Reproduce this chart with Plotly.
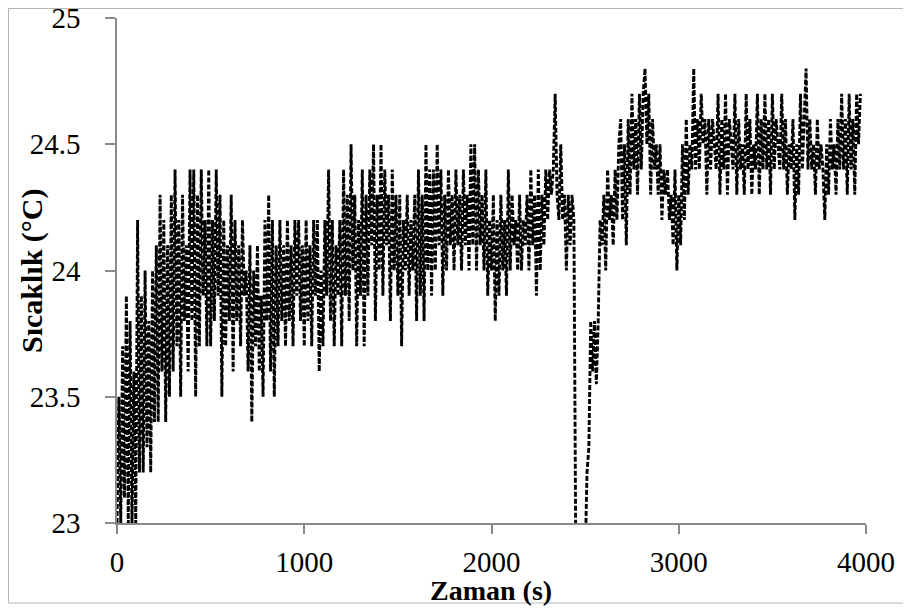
import plotly.graph_objects as go

# Sample times (s), one reading every 10 s
time_s = list(range(0, 3980, 10))

# Temperature readings (°C) (one row = 100 s)
temperature_c = [
    23.0, 23.5, 23.0, 23.7, 23.1, 23.9, 23.0, 23.8, 23.0, 23.6,
    23.0, 24.2, 23.2, 23.9, 23.2, 24.0, 23.3, 23.8, 23.2, 24.0,
    23.4, 24.1, 23.4, 24.3, 23.6, 24.2, 23.4, 24.1, 23.5, 24.3,
    23.6, 24.4, 23.7, 24.2, 23.5, 24.3, 23.8, 24.1, 23.6, 24.4,
    23.8, 24.4, 23.5, 24.3, 23.7, 24.4, 23.9, 24.2, 23.7, 24.4,
    23.7, 24.2, 23.8, 24.4, 23.9, 24.3, 23.5, 24.2, 23.7, 24.1,
    23.8, 24.3, 23.6, 24.2, 23.8, 24.1, 23.7, 24.2, 23.9, 24.0,
    23.6, 24.1, 23.4, 24.0, 23.7, 24.1, 23.6, 23.9, 23.5, 24.2,
    23.8, 24.3, 23.6, 24.2, 23.5, 24.1, 23.7, 24.2, 23.8, 24.1,
    23.7, 24.2, 23.8, 24.1, 23.7, 24.2, 23.9, 24.2, 23.8, 24.1,
    23.7, 24.2, 23.8, 24.1, 23.7, 24.2, 23.9, 24.2, 23.6, 24.0,
    23.7, 24.2, 23.9, 24.4, 23.8, 24.2, 23.7, 24.1, 23.9, 24.2,
    23.7, 24.4, 23.9, 24.3, 23.8, 24.5, 24.0, 24.3, 23.7, 24.2,
    23.9, 24.4, 23.7, 24.3, 23.9, 24.4, 24.1, 24.5, 23.8, 24.3,
    24.0, 24.5, 23.9, 24.4, 24.1, 24.3, 23.8, 24.4, 24.0, 24.3,
    23.9, 24.3, 23.7, 24.2, 24.0, 24.3, 23.9, 24.2, 24.0, 24.3,
    23.8, 24.4, 23.9, 24.3, 23.8, 24.5, 24.0, 24.4, 23.9, 24.4,
    24.0, 24.5, 24.1, 24.4, 23.9, 24.3, 24.0, 24.4, 24.1, 24.3,
    24.0, 24.4, 24.1, 24.3, 24.0, 24.4, 24.1, 24.3, 24.0, 24.5,
    24.1, 24.5, 24.0, 24.4, 24.1, 24.3, 24.0, 24.4, 23.9, 24.2,
    24.0, 24.3, 23.8, 24.2, 23.9, 24.3, 24.0, 24.2, 23.9, 24.4,
    24.0, 24.3, 24.1, 24.2, 24.0, 24.3, 24.0, 24.2, 24.1, 24.3,
    24.0, 24.4, 24.1, 24.3, 23.9, 24.4, 24.0, 24.3, 24.1, 24.4,
    24.2, 24.4, 24.3, 24.4, 24.7, 24.3, 24.2, 24.5, 24.2, 24.3,
    24.0, 24.3, 24.1, 24.3, 24.2, 22.9, 22.6, 22.4, 22.3, 22.5,
    22.8, 23.2, 23.3, 23.8, 23.6, 23.8, 23.55, 23.8, 24.2, 24.1,
    24.3, 24.0, 24.4, 24.2, 24.3, 24.1, 24.4, 24.2, 24.5, 24.6,
    24.2, 24.5, 24.1, 24.6, 24.3, 24.7, 24.4, 24.6, 24.3, 24.7,
    24.4, 24.7, 24.8, 24.5, 24.7, 24.3, 24.6, 24.4, 24.5, 24.3,
    24.5, 24.2, 24.4, 24.3, 24.4, 24.2, 24.3, 24.1, 24.4, 24.0,
    24.3, 24.1, 24.5, 24.2, 24.6, 24.3, 24.5, 24.4, 24.8, 24.4,
    24.6, 24.4, 24.7, 24.5, 24.6, 24.3, 24.6, 24.4, 24.6, 24.5,
    24.4, 24.7, 24.3, 24.6, 24.4, 24.7, 24.3, 24.6, 24.5, 24.4,
    24.7, 24.3, 24.6, 24.4, 24.5, 24.3, 24.7, 24.4, 24.6, 24.3,
    24.5, 24.4, 24.7, 24.3, 24.6, 24.4, 24.7, 24.4, 24.6, 24.3,
    24.7, 24.4, 24.6, 24.5, 24.4, 24.7, 24.4, 24.6, 24.3, 24.5,
    24.4, 24.6, 24.2, 24.5, 24.3, 24.7, 24.4, 24.6, 24.8, 24.4,
    24.6, 24.4, 24.5, 24.3, 24.6, 24.4, 24.5, 24.4, 24.2, 24.5,
    24.3, 24.6, 24.4, 24.5, 24.3, 24.6, 24.4, 24.7, 24.4, 24.6,
    24.3, 24.7, 24.4, 24.6, 24.3, 24.7, 24.5, 24.7,
]

x_ticks = [0, 1000, 2000, 3000, 4000]
y_ticks = [23, 23.5, 24, 24.5, 25]
y_tick_text = ["23", "23.5", "24", "24.5", "25"]

x_title = "Zaman (s)"
y_title = "Sıcaklık (°C)"

SERIF = "Liberation Serif, Times New Roman, serif"
AXIS_GREY = "#8a8a8a"

# the page body has an 8px default margin, so the figure is 8px smaller
W, H = 903, 602
L, R, T, B = 109, 45, 10, 87
PW, PH = W - L - R, H - T - B

fig = go.Figure()
fig.add_trace(go.Scatter(
    x=time_s, y=temperature_c, mode="lines",
    line=dict(color="black", width=2.9, dash="5px,2px"),
    showlegend=False, hoverinfo="skip",
))

fig.update_layout(
    width=W, height=H,
    margin=dict(l=L, r=R, t=T, b=B),
    paper_bgcolor="white", plot_bgcolor="white",
    font=dict(family=SERIF, color="black"),
    xaxis=dict(
        range=[0, 4000], tickvals=x_ticks, ticktext=[str(v) for v in x_ticks],
        showgrid=False, zeroline=False, automargin=False,
        showline=True, linecolor=AXIS_GREY, linewidth=1.5,
        ticks="outside", ticklen=9, tickcolor=AXIS_GREY, tickwidth=1.5,
        tickfont=dict(family=SERIF, size=29, color="black"),
        ticklabelstandoff=3, ticklabeloverflow="allow",
    ),
    yaxis=dict(
        range=[23, 25], tickvals=y_ticks, ticktext=y_tick_text,
        showgrid=False, zeroline=False, automargin=False,
        showline=True, linecolor=AXIS_GREY, linewidth=1.5,
        ticks="outside", ticklen=10, tickcolor=AXIS_GREY, tickwidth=1.5,
        tickfont=dict(family=SERIF, size=29, color="black"),
        ticklabelstandoff=19, ticklabeloverflow="allow",
    ),
    annotations=[
        dict(text=f"<b>{x_title}</b>", xref="paper", yref="paper",
             x=(491 - 117) / PW, y=(523 - 590) / PH, xanchor="center", yanchor="middle",
             showarrow=False, font=dict(family=SERIF, size=28, color="black")),
        dict(text=f"<b>{y_title}</b>", xref="paper", yref="paper",
             x=(32 - 117) / PW, y=(523 - 271) / PH, xanchor="center", yanchor="middle",
             textangle=-90, showarrow=False,
             font=dict(family=SERIF, size=30, color="black")),
    ],
    shapes=[
        dict(type="rect", xref="paper", yref="paper",
             x0=(8.5 - 117) / PW, x1=(909 - 117) / PW,
             y0=(523 - 603) / PH, y1=(523 - 8.5) / PH,
             line=dict(color="#b5b5b5", width=1), fillcolor="rgba(0,0,0,0)",
             layer="below"),
    ],
)

fig.write_html("out.html")
